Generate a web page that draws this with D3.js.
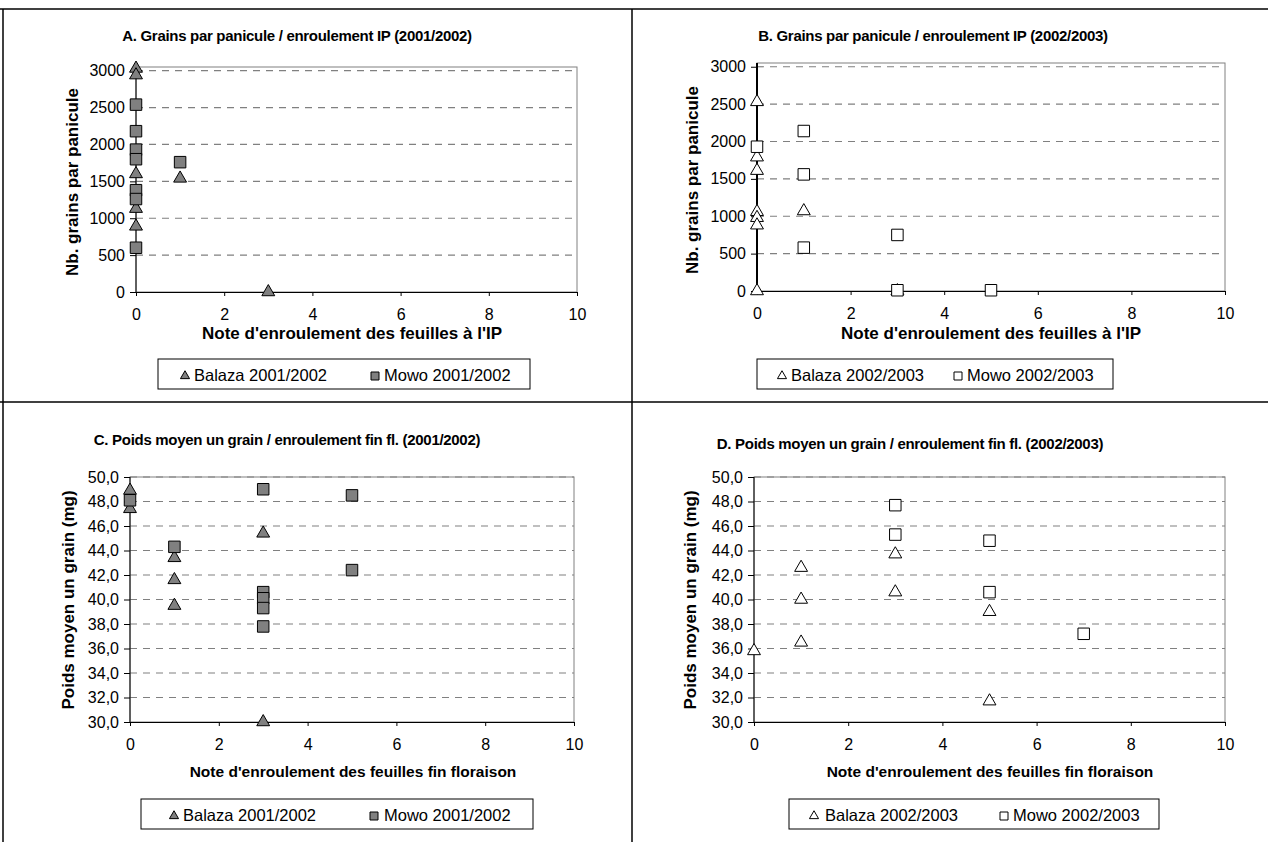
<!DOCTYPE html>
<html>
<head>
<meta charset="utf-8">
<script src="https://cdn.jsdelivr.net/npm/d3@7"></script>
<style>
  body { margin: 0; background: #fff; }
  text { font-family: Arial, "Liberation Sans", sans-serif; fill: #000; }
</style>
</head>
<body>
<script>
// ---- data ----
const xTicks = [0, 2, 4, 6, 8, 10]
const grainTicks = [0, 500, 1000, 1500, 2000, 2500, 3000]
const poidsTicks = [30, 32, 34, 36, 38, 40, 42, 44, 46, 48, 50]

// A : grains par panicule / enroulement IP 2001/2002
const balazaA = [[0, 3030], [0, 2940], [0, 1600], [0, 1130], [0, 890], [1, 1540], [3, 0]]
const mowoA = [[0, 2540], [0, 2180], [0, 1930], [0, 1800], [0, 1380], [0, 1260], [0, 600], [1, 1760]]

// B : grains par panicule / enroulement IP 2002/2003
const balazaB = [[0, 2530], [0, 1790], [0, 1610], [0, 1060], [0, 980], [0, 880], [0, 0], [1, 1070], [3, 0]]
const mowoB = [[0, 1930], [1, 2140], [1, 1560], [1, 580], [3, 750], [3, 10], [5, 10]]

// C : poids moyen un grain / enroulement fin floraison 2001/2002
const balazaC = [[0, 48.9], [0, 47.4], [1, 43.4], [1, 41.6], [1, 39.5], [3, 45.4], [3, 30.0]]
const mowoC = [[0, 48.1], [1, 44.3], [3, 49.0], [3, 40.6], [3, 40.1], [3, 39.3], [3, 37.8], [5, 48.5], [5, 42.4]]

// D : poids moyen un grain / enroulement fin floraison 2002/2003
const balazaD = [[0, 35.8], [1, 42.6], [1, 40.0], [1, 36.5], [3, 43.7], [3, 40.6], [5, 39.0], [5, 31.7]]
const mowoD = [[3, 47.7], [3, 45.3], [5, 44.8], [5, 40.6], [7, 37.2]]

const svg = d3.select("body")
              .append("svg")
              .attr("width", 1268)
              .attr("height", 842)
              .style("background-color", "#fff")

// cell separators of the original table
svg.append("line").attr("x1", 0).attr("x2", 1268).attr("y1", 9).attr("y2", 9)
   .attr("stroke", "#000").attr("stroke-width", 1.5)
svg.append("line").attr("x1", 0).attr("x2", 1268).attr("y1", 402).attr("y2", 402)
   .attr("stroke", "#000").attr("stroke-width", 1.5)
svg.append("line").attr("x1", 3).attr("x2", 3).attr("y1", 9).attr("y2", 842)
   .attr("stroke", "#000").attr("stroke-width", 1.5)
svg.append("line").attr("x1", 632).attr("x2", 632).attr("y1", 9).attr("y2", 842)
   .attr("stroke", "#000").attr("stroke-width", 1.5)

const tri = d3.symbol().type(d3.symbolTriangle)
const sq = d3.symbol().type(d3.symbolSquare)

const panels = [
  { left: 136, right: 577, top: 67, bottom: 292, yDom: [0, 3050], yTicks: grainTicks, fmt: d => d,
    fill: "#808080", yAxisW: 1,
    title: "A. Grains par panicule / enroulement IP (2001/2002)", tx: 297, ty: 36,
    yTitle: "Nb. grains par panicule", yx: 72, yy: 182, ySize: 17,
    xTitle: "Note d'enroulement des feuilles à l'IP", xx: 352, xy: 333, xSize: 17,
    leg: [158, 359, 372], legItems: [[185, 194, "Balaza 2001/2002"], [375, 384, "Mowo 2001/2002"]],
    balaza: balazaA, mowo: mowoA },
  { left: 757, right: 1225, top: 63, bottom: 291, yDom: [0, 3050], yTicks: grainTicks, fmt: d => d,
    fill: "#fff", yAxisW: 2,
    title: "B. Grains par panicule / enroulement IP (2002/2003)", tx: 933, ty: 36,
    yTitle: "Nb. grains par panicule", yx: 692, yy: 180, ySize: 17,
    xTitle: "Note d'enroulement des feuilles à l'IP", xx: 991, xy: 333, xSize: 17,
    leg: [757, 359, 356], legItems: [[782, 791, "Balaza 2002/2003"], [958, 967, "Mowo 2002/2003"]],
    balaza: balazaB, mowo: mowoB },
  { left: 130, right: 574, top: 477, bottom: 722, yDom: [30, 50], yTicks: poidsTicks,
    fmt: d => d.toFixed(1).replace(".", ","), fill: "#808080", yAxisW: 1,
    title: "C. Poids moyen un grain / enroulement fin fl. (2001/2002)", tx: 287, ty: 440,
    yTitle: "Poids moyen  un grain (mg)", yx: 68, yy: 600, ySize: 17,
    xTitle: "Note d'enroulement des feuilles fin floraison", xx: 353, xy: 772, xSize: 15.5,
    leg: [141, 799, 392], legItems: [[174, 183, "Balaza 2001/2002"], [374, 384, "Mowo 2001/2002"]],
    balaza: balazaC, mowo: mowoC },
  { left: 754, right: 1225, top: 477, bottom: 722, yDom: [30, 50], yTicks: poidsTicks,
    fmt: d => d.toFixed(1).replace(".", ","), fill: "#fff", yAxisW: 1,
    title: "D. Poids moyen un grain / enroulement fin fl. (2002/2003)", tx: 910, ty: 444,
    yTitle: "Poids moyen  un grain (mg)", yx: 690, yy: 600, ySize: 17,
    xTitle: "Note d'enroulement des feuilles fin floraison", xx: 990, xy: 772, xSize: 15.5,
    leg: [789, 799, 370], legItems: [[814, 825, "Balaza 2002/2003"], [1004, 1013, "Mowo 2002/2003"]],
    balaza: balazaD, mowo: mowoD }
]

panels.forEach(p => {
  const x = d3.scaleLinear().domain([0, 10]).range([p.left, p.right])
  const y = d3.scaleLinear().domain(p.yDom).range([p.bottom, p.top])

  // plot area frame
  svg.append("rect")
     .attr("x", p.left).attr("y", p.top)
     .attr("width", p.right - p.left).attr("height", p.bottom - p.top)
     .attr("fill", "none").attr("stroke", "#808080").attr("stroke-width", 1)

  // dashed grid
  svg.append("g")
     .selectAll("line")
     .data(p.yTicks.slice(1))
     .enter()
     .append("line")
     .attr("x1", p.left).attr("x2", p.right)
     .attr("y1", d => y(d)).attr("y2", d => y(d))
     .attr("stroke", "#808080").attr("stroke-width", 1.2)
     .attr("stroke-dasharray", "7,6")

  const yAxis = svg.append("g")
     .attr("transform", `translate(${p.left},0)`)
     .call(d3.axisLeft(y).tickValues(p.yTicks).tickFormat(p.fmt).tickSize(6).tickSizeOuter(0).tickPadding(5))
  yAxis.select(".domain").attr("stroke-width", p.yAxisW).attr("d", `M0,${p.top}V${p.bottom}`)
  yAxis.selectAll("text").attr("font-size", "16px").attr("font-family", "Arial, 'Liberation Sans', sans-serif")

  const xAxis = svg.append("g")
     .attr("transform", `translate(0,${p.bottom})`)
     .call(d3.axisBottom(x).tickValues(xTicks).tickSize(4).tickSizeOuter(0).tickPadding(13))
  xAxis.selectAll("text").attr("font-size", "16px").attr("font-family", "Arial, 'Liberation Sans', sans-serif")

  // markers: Balaza triangles then Mowo squares on top
  svg.append("g")
     .selectAll("path")
     .data(p.balaza)
     .enter()
     .append("path")
     .attr("d", tri.size(72))
     .attr("transform", d => `translate(${x(d[0])},${y(d[1])})`)
     .attr("fill", p.fill).attr("stroke", "#000").attr("stroke-width", 1)

  svg.append("g")
     .selectAll("path")
     .data(p.mowo)
     .enter()
     .append("path")
     .attr("d", sq.size(132))
     .attr("transform", d => `translate(${x(d[0])},${y(d[1])})`)
     .attr("fill", p.fill).attr("stroke", "#000").attr("stroke-width", 1)

  // titles
  svg.append("text")
     .attr("x", p.tx).attr("y", p.ty).attr("dy", "0.35em")
     .attr("text-anchor", "middle").attr("font-weight", "bold").attr("font-size", "15px")
     .attr("letter-spacing", "-0.3px")
     .text(p.title)

  svg.append("text")
     .attr("transform", `translate(${p.yx},${p.yy}) rotate(-90)`)
     .attr("dy", "0.35em")
     .attr("text-anchor", "middle").attr("font-weight", "bold").attr("font-size", p.ySize + "px")
     .text(p.yTitle)

  svg.append("text")
     .attr("x", p.xx).attr("y", p.xy).attr("dy", "0.35em")
     .attr("text-anchor", "middle").attr("font-weight", "bold").attr("font-size", p.xSize + "px")
     .text(p.xTitle)

  // legend
  const lg = svg.append("g")
  lg.append("rect")
    .attr("x", p.leg[0]).attr("y", p.leg[1]).attr("width", p.leg[2]).attr("height", 30)
    .attr("fill", "#fff").attr("stroke", "#000").attr("stroke-width", 1)
  const cy = p.leg[1] + 16
  lg.append("path")
    .attr("d", tri.size(36))
    .attr("transform", `translate(${p.legItems[0][0]},${cy + 1})`)
    .attr("fill", p.fill).attr("stroke", "#000").attr("stroke-width", 1)
  lg.append("path")
    .attr("d", sq.size(64))
    .attr("transform", `translate(${p.legItems[1][0]},${cy + 1})`)
    .attr("fill", p.fill).attr("stroke", "#000").attr("stroke-width", 1)
  lg.selectAll("text.lab")
    .data(p.legItems)
    .enter()
    .append("text")
    .attr("class", "lab")
    .attr("x", d => d[1]).attr("y", cy).attr("dy", "0.35em")
    .attr("font-size", "16.5px")
    .text(d => d[2])
})
</script>
</body>
</html>
